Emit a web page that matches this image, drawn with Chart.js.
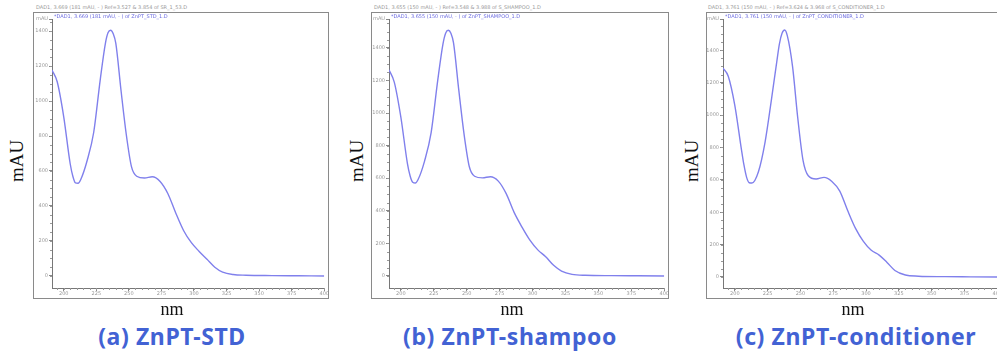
<!DOCTYPE html>
<html>
<head>
<meta charset="utf-8">
<script src="https://cdn.jsdelivr.net/npm/chart.js@4.4.1/dist/chart.umd.min.js"></script>
<style>
  body { margin: 0; width: 997px; height: 352px; overflow: hidden; background: #fff; position: relative; }
  .frame { position: absolute; top: 12px; height: 287px; }
  .hdr { position: absolute; top: 4px; font: 5px "DejaVu Sans", sans-serif; color: #999; white-space: nowrap; }
  .sub { position: absolute; top: 13px; font: 5px "DejaVu Sans", sans-serif; color: #6a6ae0; white-space: nowrap; }
  .ylab { position: absolute; top: 161px; font: 19px "Liberation Serif", serif; color: #111; transform: translate(-50%, -50%) rotate(-90deg); }
  .xlab { position: absolute; top: 309px; font: 18px "Liberation Serif", serif; color: #111; transform: translate(-50%, -50%); }
  .cap { position: absolute; top: 336px; font: bold 23px "Noto Sans", sans-serif; letter-spacing: 0.6px; color: #4262d4; transform: translate(-50%, -50%); white-space: nowrap; }
</style>
</head>
<body>
<div class="hdr" style="left:36px">DAD1, 3.669 (181 mAU, - ) Ref=3.527 &amp; 3.854 of SR_1_53.D</div>
<div class="hdr" style="left:374px">DAD1, 3.655 (150 mAU, - ) Ref=3.548 &amp; 3.988 of S_SHAMPOO_1.D</div>
<div class="hdr" style="left:708px">DAD1, 3.761 (150 mAU, - ) Ref=3.624 &amp; 3.968 of S_CONDITIONER_1.D</div>

<canvas id="c0" class="frame" style="left:33px"></canvas>
<canvas id="c1" class="frame" style="left:371px"></canvas>
<canvas id="c2" class="frame" style="left:706px"></canvas>

<div class="sub" style="left:54px">*DAD1, 3.669 (181 mAU, - ) of ZnPT_STD_1.D</div>
<div class="sub" style="left:391px">*DAD1, 3.655 (150 mAU, - ) of ZnPT_SHAMPOO_1.D</div>
<div class="sub" style="left:725px">*DAD1, 3.761 (150 mAU, - ) of ZnPT_CONDITIONER_1.D</div>

<div class="ylab" style="left:17px">mAU</div>
<div class="ylab" style="left:357px">mAU</div>
<div class="ylab" style="left:692px">mAU</div>
<div class="xlab" style="left:172px">nm</div>
<div class="xlab" style="left:512px">nm</div>
<div class="xlab" style="left:853px">nm</div>
<div class="cap" style="left:172px">(a) ZnPT-STD</div>
<div class="cap" style="left:510px">(b) ZnPT-shampoo</div>
<div class="cap" style="left:856px">(c) ZnPT-conditioner</div>

<script>
// wavelength (nm)
const wavelengths = [191, 195, 200, 205, 207, 209, 211, 213, 218, 223, 228, 232, 234, 236, 238, 240, 244, 248, 252, 256, 262, 268, 274, 280, 286, 292, 298, 304, 310, 316, 322, 330, 340, 360, 380, 400];

// absorbance (mAU)
const stdValues = [1177, 1110, 910, 640, 570, 532, 530, 550, 660, 820, 1120, 1330, 1390, 1405, 1385, 1330, 1060, 810, 625, 570, 560, 567, 540, 470, 360, 260, 190, 140, 95, 50, 22, 8, 4, 2, 1, 0];
const shampooValues = [1265, 1190, 975, 690, 615, 575, 570, 590, 705, 880, 1200, 1425, 1490, 1508, 1490, 1430, 1140, 870, 670, 612, 602, 609, 582, 505, 390, 300, 220, 160, 118, 65, 30, 10, 4, 2, 1, 0];
const conditionerValues = [1290, 1240, 1060, 790, 690, 615, 582, 580, 650, 830, 1100, 1330, 1440, 1505, 1525, 1490, 1300, 980, 720, 625, 605, 615, 590, 530, 410, 300, 220, 165, 135, 90, 40, 12, 5, 2, 1, 0];

const xTicks = [200, 225, 250, 275, 300, 325, 350, 375, 400];
const yTicks = [0, 200, 400, 600, 800, 1000, 1200, 1400];

// per-panel geometry: canvas width, y-axis width, y range
const panels = [
  { id: 'c0', width: 296, axisW: 19, yMin: -69, yMax: 1469, values: stdValues },
  { id: 'c1', width: 298, axisW: 18, yMin: -74, yMax: 1577, values: shampooValues },
  { id: 'c2', width: 296, axisW: 17, yMin: -68, yMax: 1593, values: conditionerValues }
];

const frameAndMinor = {
  id: 'frameAndMinor',
  afterDraw(chart) {
    const ctx = chart.ctx;
    const x = chart.scales.x, y = chart.scales.y;
    ctx.save();
    ctx.strokeStyle = '#8a8a8a';
    ctx.lineWidth = 1;
    ctx.strokeRect(0.5, 0.5, chart.width - 1, chart.height - 1);
    // minor ticks
    ctx.strokeStyle = '#999';
    ctx.beginPath();
    for (let v = 0; v <= y.max; v += 50) {
      const py = Math.round(y.getPixelForValue(v)) + 0.5;
      ctx.moveTo(x.left - 2, py); ctx.lineTo(x.left, py);
    }
    for (let v = 195; v <= 400; v += 5) {
      const px = Math.round(x.getPixelForValue(v)) + 0.5;
      ctx.moveTo(px, y.bottom); ctx.lineTo(px, y.bottom + 2);
    }
    ctx.stroke();
    ctx.restore();
  }
};

panels.forEach(function (p) {
  const cv = document.getElementById(p.id);
  cv.width = p.width;
  cv.height = 287;
  cv.style.width = p.width + 'px';
  cv.style.height = '287px';
  new Chart(cv, {
    type: 'line',
    data: {
      labels: wavelengths,
      datasets: [{
        data: p.values,
        borderColor: 'rgb(128, 128, 236)',
        borderWidth: 1.4,
        pointRadius: 0,
        cubicInterpolationMode: 'monotone',
        fill: false
      }]
    },
    options: {
      responsive: false,
      animation: false,
      layout: { padding: { top: 7, right: 1, left: 0, bottom: 0 } },
      plugins: { legend: { display: false }, tooltip: { enabled: false } },
      scales: {
        x: {
          type: 'linear',
          min: 191,
          max: 400,
          afterFit: s => { s.height = 11; },
          afterBuildTicks: s => { s.ticks = xTicks.map(v => ({ value: v })); },
          grid: { display: true, drawOnChartArea: false, tickLength: 3, color: '#888' },
          border: { display: true, color: '#777' },
          ticks: { font: { size: 5, family: 'DejaVu Sans' }, color: '#999', padding: 0, maxRotation: 0, autoSkip: false }
        },
        y: {
          min: p.yMin,
          max: p.yMax,
          afterFit: s => { s.width = p.axisW; },
          afterBuildTicks: s => { s.ticks = yTicks.map(v => ({ value: v })).concat([{ value: p.yMax }]); },
          grid: { display: true, drawOnChartArea: false, tickLength: 3, color: '#888' },
          border: { display: true, color: '#777' },
          ticks: {
            font: { size: 5, family: 'DejaVu Sans' }, color: '#999', padding: 1, autoSkip: false,
            callback: v => (v === p.yMax ? 'mAU' : v)
          }
        }
      }
    },
    plugins: [frameAndMinor]
  });
});
</script>
</body>
</html>
